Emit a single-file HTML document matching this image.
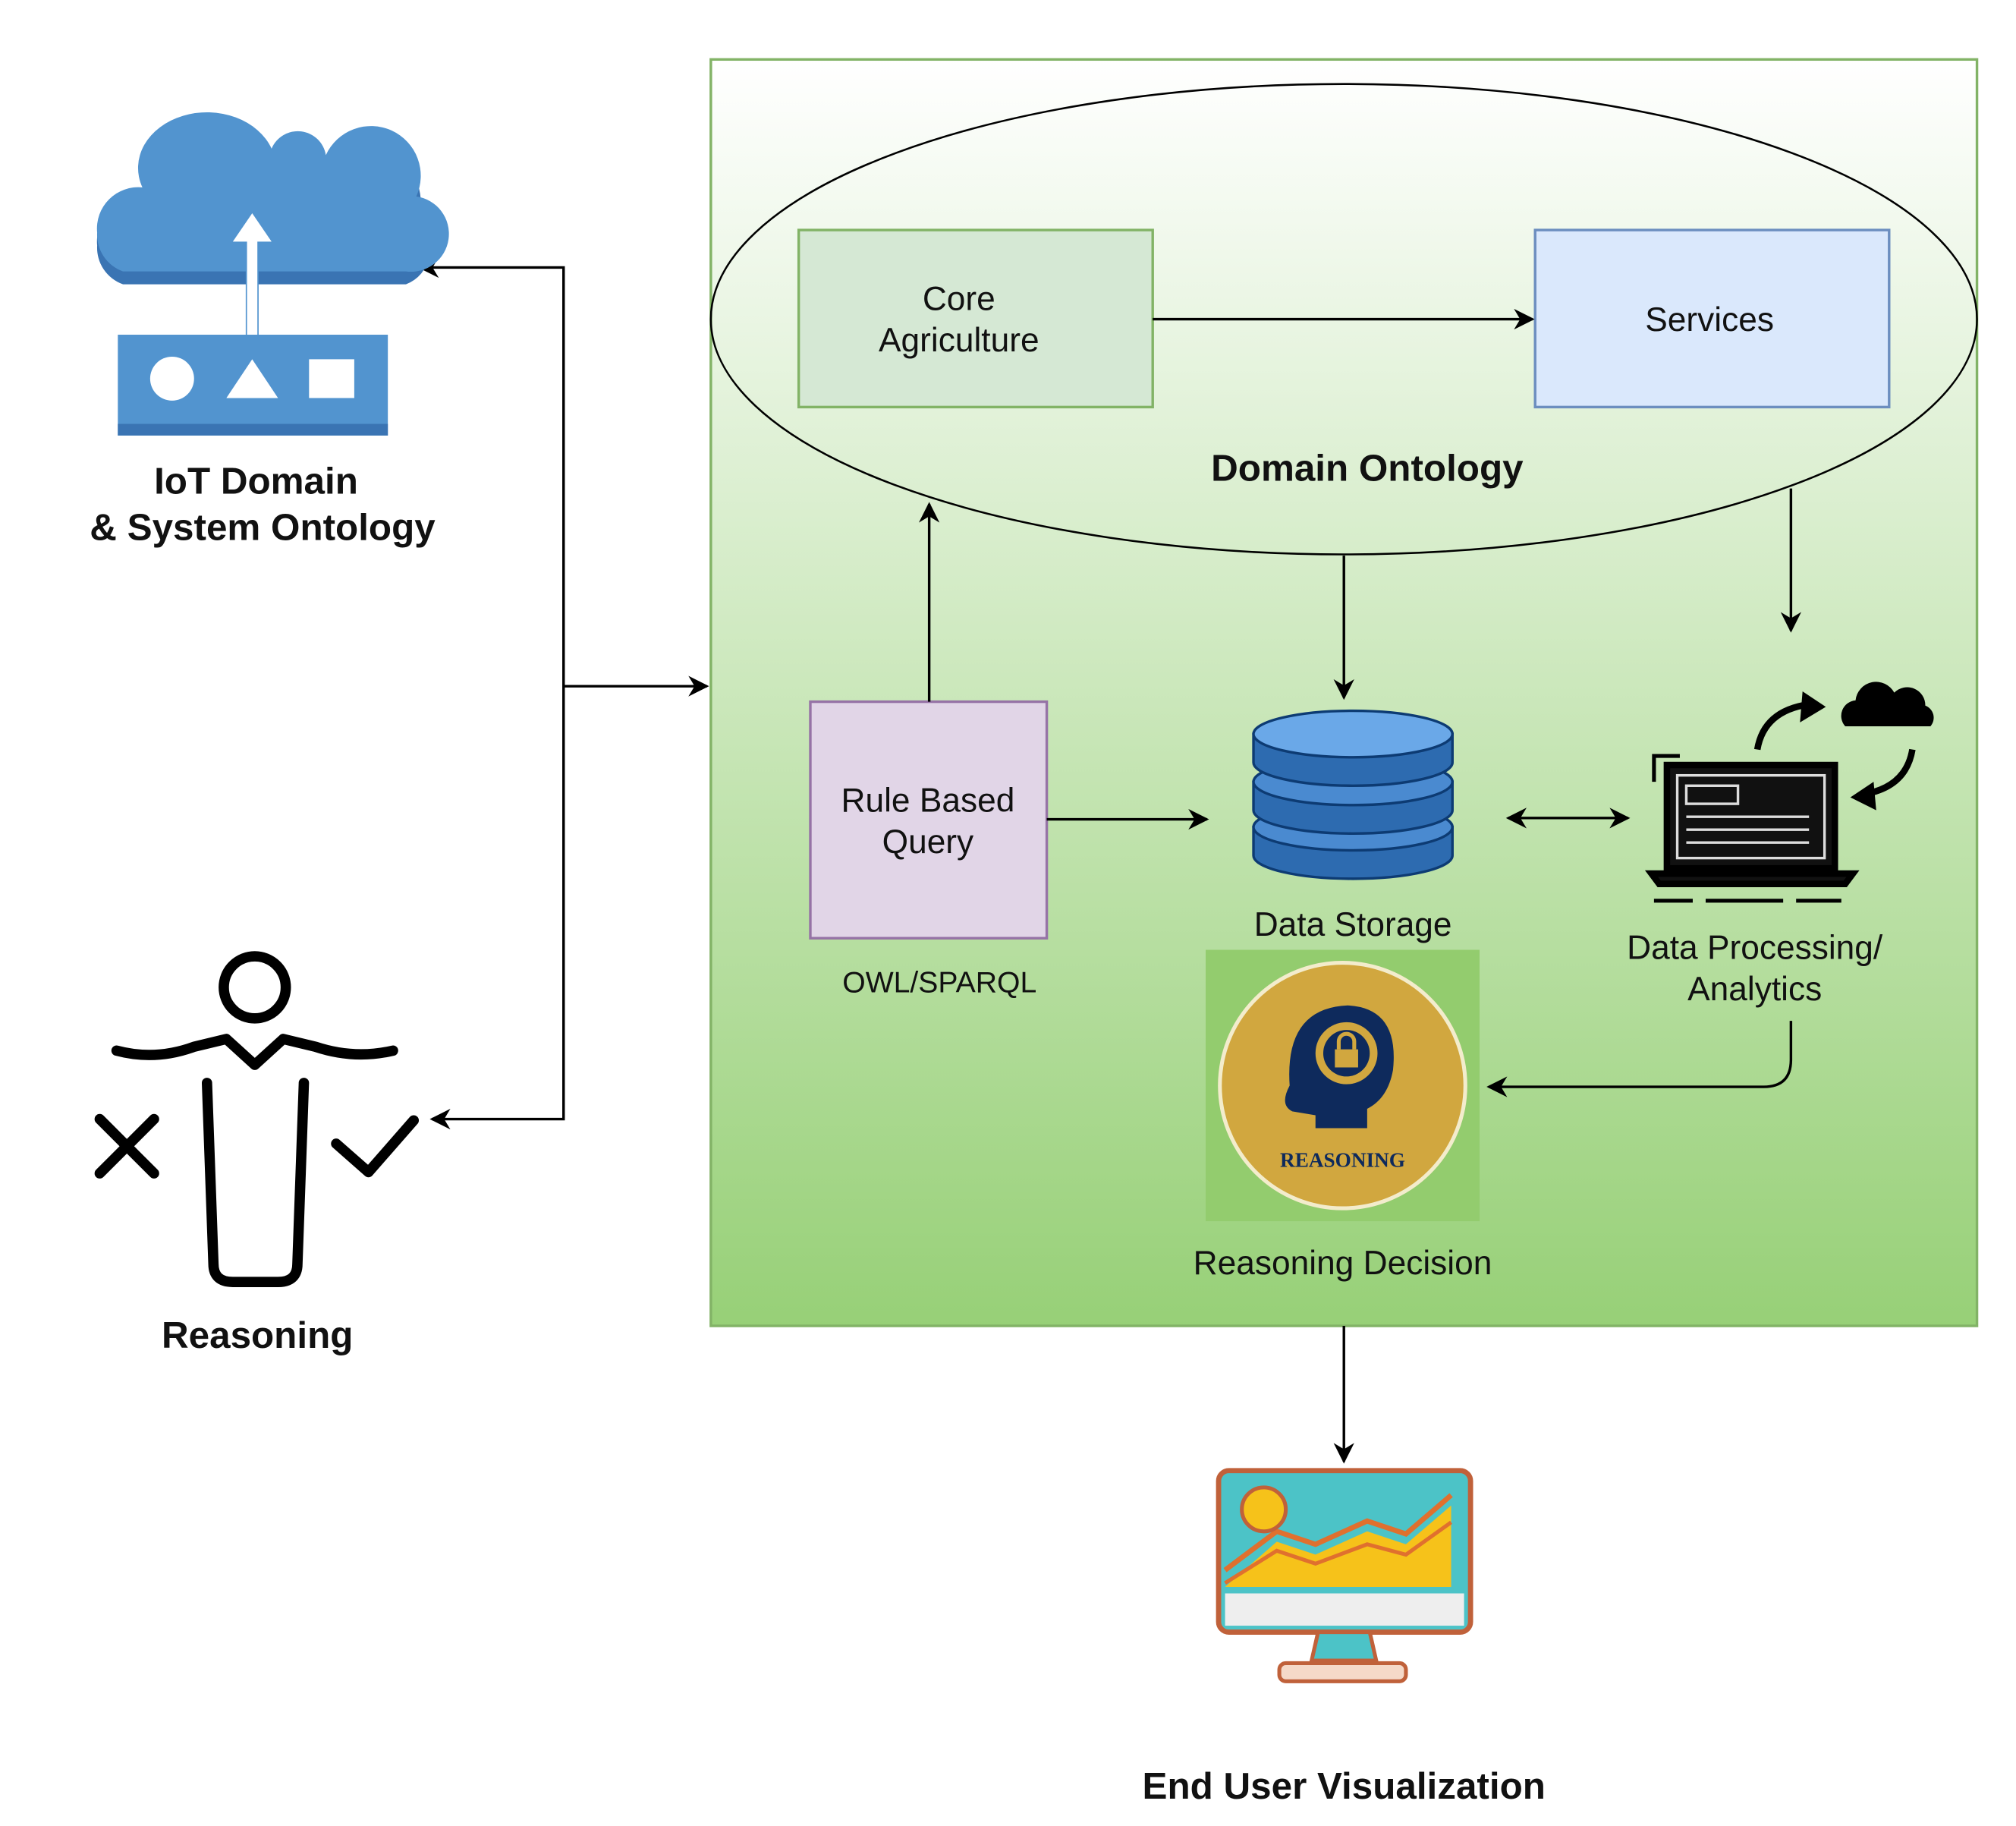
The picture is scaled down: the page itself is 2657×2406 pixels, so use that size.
<!DOCTYPE html>
<html><head><meta charset="utf-8"><style>
html,body{margin:0;padding:0;background:#fff;}
svg{display:block;}
text{font-family:"Liberation Sans",sans-serif;fill:#111;}
</style></head><body>
<svg width="2657" height="2406" viewBox="0 0 1560 1413" xmlns="http://www.w3.org/2000/svg">
<defs>
<linearGradient id="g" x1="0" y1="0" x2="0" y2="1">
<stop offset="0" stop-color="#ffffff"/><stop offset="1" stop-color="#97d077"/>
</linearGradient>
<marker id="a" viewBox="0 0 10 10" refX="9" refY="5" markerWidth="8" markerHeight="8" orient="auto-start-reverse">
<path d="M0,0 L10,5 L0,10 L3,5 z" fill="#000"/></marker>
</defs>
<rect width="1560" height="1413" fill="#fff"/>
<rect x="550" y="46" width="980" height="980" fill="url(#g)" stroke="#82b366" stroke-width="2"/>
<ellipse cx="1040" cy="247" rx="490" ry="182" fill="none" stroke="#000" stroke-width="1.5"/>
<rect x="618" y="178" width="274" height="137" fill="#d5e8d4" stroke="#82b366" stroke-width="2"/>
<rect x="1188" y="178" width="274" height="137" fill="#dae8fc" stroke="#6c8ebf" stroke-width="2"/>
<text x="742" y="240" font-size="26" text-anchor="middle">Core</text>
<text x="742" y="272" font-size="26" text-anchor="middle">Agriculture</text>
<text x="1323" y="256" font-size="26" text-anchor="middle">Services</text>
<line x1="892" y1="247" x2="1186" y2="247" stroke="#000" stroke-width="2" marker-end="url(#a)"/>
<text x="1058" y="372" font-size="29" font-weight="bold" text-anchor="middle">Domain Ontology</text>
<rect x="627" y="543" width="183" height="183" fill="#e1d5e7" stroke="#9673a6" stroke-width="2"/>
<text x="718" y="628" font-size="26" text-anchor="middle">Rule Based</text>
<text x="718" y="660" font-size="26" text-anchor="middle">Query</text>
<text x="727" y="768" font-size="23" text-anchor="middle">OWL/SPARQL</text>
<line x1="719" y1="543" x2="719" y2="390" stroke="#000" stroke-width="2" marker-end="url(#a)"/>
<line x1="1040" y1="430" x2="1040" y2="540" stroke="#000" stroke-width="2" marker-end="url(#a)"/>
<line x1="1386" y1="378" x2="1386" y2="488" stroke="#000" stroke-width="2" marker-end="url(#a)"/>
<line x1="810" y1="634" x2="934" y2="634" stroke="#000" stroke-width="2" marker-end="url(#a)"/>
<line x1="1167" y1="633" x2="1260" y2="633" stroke="#000" stroke-width="2" marker-start="url(#a)" marker-end="url(#a)"/>
<g stroke="#0d3b73" stroke-width="2">
<path d="M970,640 v22 a77,18 0 0 0 154,0 v-22 z" fill="#2d6bb0"/>
<ellipse cx="1047" cy="640" rx="77" ry="18" fill="#4a8ad0"/>
<path d="M970,605 v22 a77,18 0 0 0 154,0 v-22 z" fill="#2d6bb0"/>
<ellipse cx="1047" cy="605" rx="77" ry="18" fill="#4a8ad0"/>
<path d="M970,568 v22 a77,18 0 0 0 154,0 v-22 z" fill="#2d6bb0"/>
<ellipse cx="1047" cy="568" rx="77" ry="18" fill="#6aa8e8"/>
</g>
<text x="1047" y="724" font-size="26" text-anchor="middle">Data Storage</text>
<g fill="none" stroke="#000" stroke-width="5">
<rect x="1290" y="592" width="130" height="80" fill="#111"/>
<rect x="1298" y="600" width="114" height="64" fill="#111" stroke="#ddd" stroke-width="2"/>
<path d="M1278,676 h156 l-6,8 h-144 z" fill="#111"/>
<path d="M1360,580 q5,-30 40,-35" />
<path d="M1480,580 q-5,30 -40,35" />
<path d="M1280,605 v-20 h20" stroke-width="3"/>
</g>
<path d="M1395,535 l18,12 l-20,12 z" fill="#000"/>
<path d="M1450,605 l-18,12 l20,10 z" fill="#000"/>
<rect x="1305" y="608" width="40" height="14" fill="none" stroke="#ddd" stroke-width="2"/>
<g stroke="#ddd" stroke-width="2"><line x1="1305" y1="632" x2="1400" y2="632"/><line x1="1305" y1="642" x2="1400" y2="642"/><line x1="1305" y1="652" x2="1400" y2="652"/></g>
<path d="M1428,562 a12,12 0 0 1 8,-20 a16,16 0 0 1 30,-6 a14,14 0 0 1 24,10 a10,10 0 0 1 4,16 z" fill="#000"/>
<g stroke="#000" stroke-width="3"><line x1="1280" y1="697" x2="1310" y2="697"/><line x1="1320" y1="697" x2="1380" y2="697"/><line x1="1390" y1="697" x2="1425" y2="697"/></g>
<text x="1358" y="742" font-size="26" text-anchor="middle">Data Processing/</text>
<text x="1358" y="774" font-size="26" text-anchor="middle">Analytics</text>
<path d="M1386,790 v30 q0,21 -21,21 H1152" fill="none" stroke="#000" stroke-width="2" marker-end="url(#a)"/>
<rect x="933" y="735" width="212" height="210" fill="#93cc6e"/>
<circle cx="1039" cy="840" r="95" fill="#d1a73f" stroke="#f3eccc" stroke-width="3"/>
<path d="M1000,860 q-10,-5 -2,-20 q-4,-60 45,-62 q40,2 35,50 q-4,22 -20,30 v15 h-40 v-10 z" fill="#0e2a5c"/>
<circle cx="1042" cy="815" r="24" fill="#d1a73f"/>
<circle cx="1042" cy="815" r="18" fill="#0e2a5c"/>
<rect x="1033" y="812" width="18" height="14" fill="#d1a73f"/>
<path d="M1036,812 v-6 a6,6 0 0 1 12,0 v6" fill="none" stroke="#d1a73f" stroke-width="3"/>
<text x="1039" y="903" font-size="16" font-weight="bold" text-anchor="middle" style="font-family:'Liberation Serif',serif;fill:#0e2a5c">REASONING</text>
<text x="1039" y="986" font-size="26" text-anchor="middle">Reasoning Decision</text>
<line x1="1040" y1="1026" x2="1040" y2="1131" stroke="#000" stroke-width="2" marker-end="url(#a)"/>
<rect x="943" y="1138" width="195" height="125" rx="8" fill="#4cc3c7" stroke="#c0613a" stroke-width="4"/>
<rect x="948" y="1233" width="185" height="25" fill="#eee"/>
<path d="M948,1228 l40,-35 l30,10 l40,-18 l30,10 l35,-30 v63 h-175 z" fill="#f6c21a"/>
<path d="M948,1215 l40,-30 l30,10 l40,-18 l30,10 l35,-30" fill="none" stroke="#e0702e" stroke-width="4"/>
<path d="M948,1225 l40,-25 l30,10 l40,-15 l30,8 l35,-25" fill="none" stroke="#e0702e" stroke-width="3"/>
<circle cx="978" cy="1168" r="17" fill="#f6c21a" stroke="#c0613a" stroke-width="3"/>
<path d="M1020,1263 l-5,22 h50 l-5,-22 z" fill="#4cc3c7" stroke="#c0613a" stroke-width="3"/>
<rect x="990" y="1287" width="98" height="14" rx="5" fill="#f5d9c8" stroke="#c0613a" stroke-width="3"/>
<text x="1040" y="1392" font-size="29" font-weight="bold" text-anchor="middle">End User Visualization</text>
<polyline points="325,207 436,207 436,866 334,866" fill="none" stroke="#000" stroke-width="2" marker-start="url(#a)" marker-end="url(#a)"/>
<line x1="436" y1="531" x2="547" y2="531" stroke="#000" stroke-width="2" marker-end="url(#a)"/>
<!-- cloud IoT -->
<path d="M95,220 a30,30 0 0 1 -20,-30 a32,32 0 0 1 35,-35 a52,42 0 0 1 100,-20 a22,22 0 0 1 42,5 a32,32 0 0 1 70,32 a28,28 0 0 1 -8,48 z" fill="#3a74b3"/>
<path d="M95,210 a30,30 0 0 1 -20,-30 a32,32 0 0 1 35,-35 a52,42 0 0 1 100,-30 a22,22 0 0 1 42,5 a32,32 0 0 1 70,32 a28,28 0 0 1 -8,58 z" fill="#5294cf"/>
<rect x="190" y="180" width="10" height="80" fill="#5294cf"/>
<rect x="191" y="185" width="8" height="75" fill="#fff"/>
<path d="M180,187 l15,-22 l15,22 z" fill="#fff"/>
<rect x="91" y="259" width="209" height="78" fill="#5294cf"/>
<rect x="91" y="328" width="209" height="9" fill="#3a74b3"/>
<circle cx="133" cy="293" r="17" fill="#fff"/>
<path d="M175,308 l20,-30 l20,30 z" fill="#fff"/>
<rect x="239" y="278" width="35" height="30" fill="#fff"/>
<text x="198" y="382" font-size="29" font-weight="bold" text-anchor="middle">IoT Domain</text>
<text x="203" y="418" font-size="29" font-weight="bold" text-anchor="middle">&amp; System Ontology</text>
<g fill="none" stroke="#000" stroke-width="8" stroke-linecap="round" stroke-linejoin="round">
<circle cx="197" cy="764" r="24"/>
<path d="M90,813 q30,8 60,-3 l25,-6 l22,20 l22,-20 l25,6 q30,10 60,3"/>
<path d="M160,838 l5,140 q0,14 15,14 h35 q15,0 15,-14 l5,-140"/>
<path d="M77,866 l42,42 M119,866 l-42,42"/>
<path d="M260,885 l25,22 l35,-40"/>
</g>
<text x="199" y="1043" font-size="29" font-weight="bold" text-anchor="middle">Reasoning</text>
</svg>
</body></html>
